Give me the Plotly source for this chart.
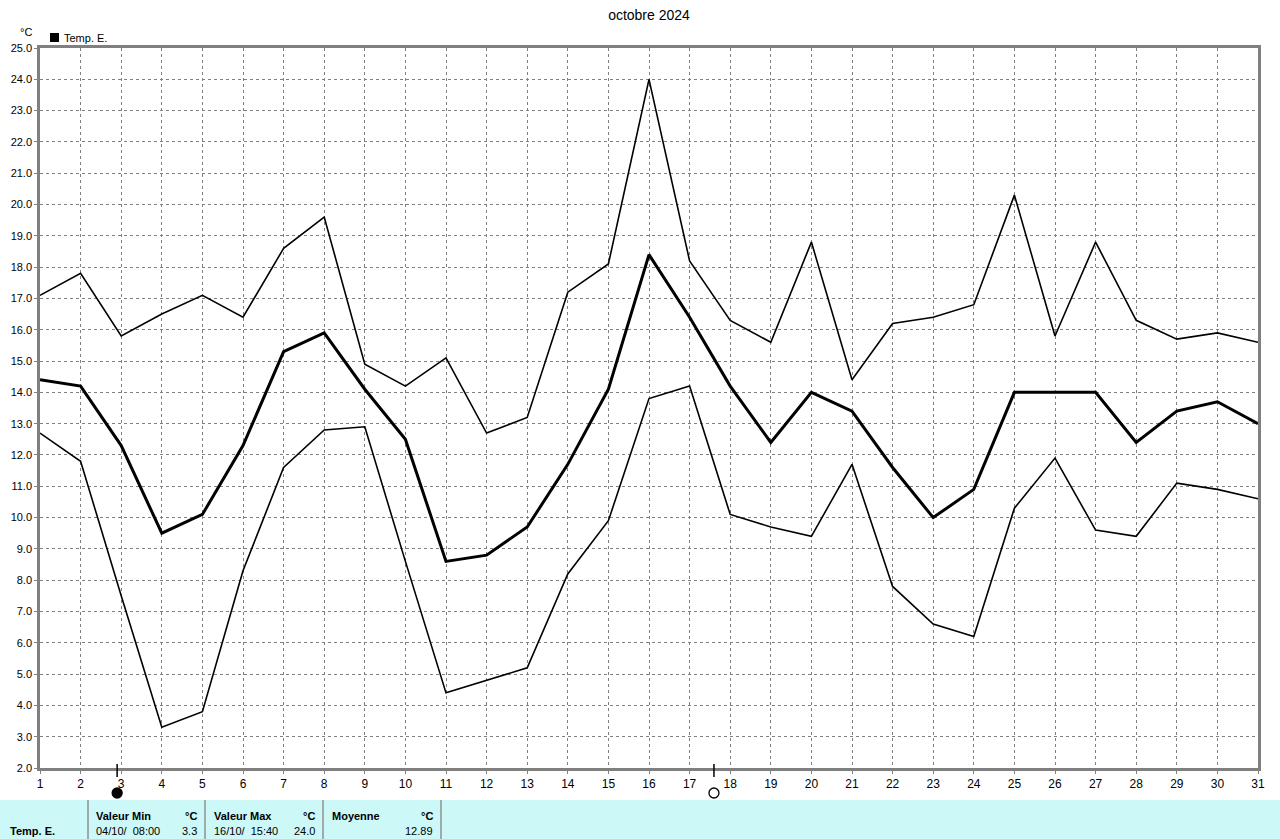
import plotly.graph_objects as go

days = list(range(1, 32))
t_max = [17.1, 17.8, 15.8, 16.5, 17.1, 16.4, 18.6, 19.6, 14.9, 14.2,
         15.1, 12.7, 13.2, 17.2, 18.1, 24.0, 18.2, 16.3, 15.6, 18.8,
         14.4, 16.2, 16.4, 16.8, 20.3, 15.8, 18.8, 16.3, 15.7, 15.9, 15.6]
t_mean = [14.4, 14.2, 12.3, 9.5, 10.1, 12.3, 15.3, 15.9, 14.1, 12.5,
          8.6, 8.8, 9.7, 11.7, 14.1, 18.4, 16.4, 14.2, 12.4, 14.0,
          13.4, 11.6, 10.0, 10.9, 14.0, 14.0, 14.0, 12.4, 13.4, 13.7, 13.0]
t_min = [12.7, 11.8, 7.5, 3.3, 3.8, 8.3, 11.6, 12.8, 12.9, 8.6,
         4.4, 4.8, 5.2, 8.2, 9.9, 13.8, 14.2, 10.1, 9.7, 9.4,
         11.7, 7.8, 6.6, 6.2, 10.3, 11.9, 9.6, 9.4, 11.1, 10.9, 10.6]
y_ticks = [2.0 + i for i in range(24)]
moon_new = 2.9
moon_full = 17.6
stat_labels = ["Valeur Min", "Valeur Max", "Moyenne"]
stat_when = ["04/10/  08:00", "16/10/  15:40", ""]
stat_vals = ["3.3", "24.0", "12.89"]

W, H = 1280, 839
L, R, T, B = 40, 1258, 48, 768


def xp(px):
    return (px - L) / (R - L)


def yp(py):
    return (B - py) / (B - T)


FONT = "Liberation Sans, Arial, sans-serif"
fig = go.Figure()
for series, w in ((t_max, 1.6), (t_min, 1.6), (t_mean, 3.0)):
    fig.add_trace(go.Scatter(x=days, y=series, mode="lines",
                             line=dict(color="black", width=w),
                             showlegend=False, hoverinfo="skip"))

shapes = []
annotations = []

# moon markers
for xm, filled in ((moon_new, True), (moon_full, False)):
    shapes.append(dict(type="line", xref="x", yref="paper", x0=xm, x1=xm,
                       y0=yp(764), y1=yp(777), line=dict(color="black", width=1.5)))
    shapes.append(dict(type="circle", xref="x", yref="paper", xsizemode="pixel",
                       ysizemode="pixel", xanchor=xm, yanchor=yp(793),
                       x0=-5, x1=5, y0=-5, y1=5,
                       fillcolor="black" if filled else "white",
                       line=dict(color="black", width=1.3)))

# legend square
shapes.append(dict(type="rect", xref="paper", yref="paper", x0=xp(50), x1=xp(59),
                   y0=yp(42), y1=yp(33), fillcolor="black", line=dict(width=0)))

# table background
shapes.append(dict(type="rect", xref="paper", yref="paper", x0=xp(0), x1=xp(W),
                   y0=yp(800), y1=yp(839), fillcolor="#ccf8f8",
                   line=dict(width=0), layer="below"))
for sx in (88, 205, 323, 441):
    shapes.append(dict(type="line", xref="paper", yref="paper", x0=xp(sx), x1=xp(sx),
                       y0=yp(800), y1=yp(839), line=dict(color="#909090", width=1.5)))


def txt(x, y, s, anchor="left", bold=False, size=11):
    annotations.append(dict(xref="paper", yref="paper", x=xp(x), y=yp(y),
                            text=f"<b>{s}</b>" if bold else s, showarrow=False,
                            xanchor=anchor, yanchor="middle",
                            font=dict(family=FONT, size=size, color="black")))


txt(8, 831, "Temp. E.", bold=True)
cols = [(94, 199), (212, 317), (330, 435)]
for (cx, rx), lab, when, val in zip(cols, stat_labels, stat_when, stat_vals):
    txt(cx, 816, lab, bold=True)
    txt(rx, 816, "°C", anchor="right", bold=True)
    if when:
        txt(cx, 831, when)
    txt(rx, 831, val, anchor="right")

txt(18, 32, "°C", size=11)
txt(62, 38, "Temp. E.", size=11)

fig.update_layout(
    width=W, height=H,
    margin=dict(l=L, r=W - R, t=T, b=H - B),
    paper_bgcolor="white", plot_bgcolor="white",
    title=dict(text="octobre 2024", x=0.5, xref="paper", xanchor="center",
               y=1 - 15 / H, yanchor="middle",
               font=dict(family=FONT, size=14, color="black")),
    shapes=shapes, annotations=annotations,
    xaxis=dict(range=[1, 31], tickvals=days, ticktext=[str(d) for d in days],
               showgrid=True, gridcolor="#808080", griddash="3px,3px", gridwidth=1,
               showline=True, linecolor="#808080", linewidth=2.5, mirror=True,
               ticks="outside", ticklen=3, tickcolor="#808080",
               tickfont=dict(family=FONT, size=12, color="black"), zeroline=False),
    yaxis=dict(range=[2, 25], tickvals=y_ticks,
               ticktext=[f"{v:.1f}" for v in y_ticks],
               showgrid=True, gridcolor="#808080", griddash="3px,3px", gridwidth=1,
               showline=True, linecolor="#808080", linewidth=2.5, mirror=True,
               ticks="outside", ticklen=3, tickcolor="#808080",
               tickfont=dict(family=FONT, size=11, color="black"), zeroline=False),
)

fig.write_html("out.html", config={"displayModeBar": False},
               post_script="document.body.style.margin='0';document.body.style.overflow='hidden';")
